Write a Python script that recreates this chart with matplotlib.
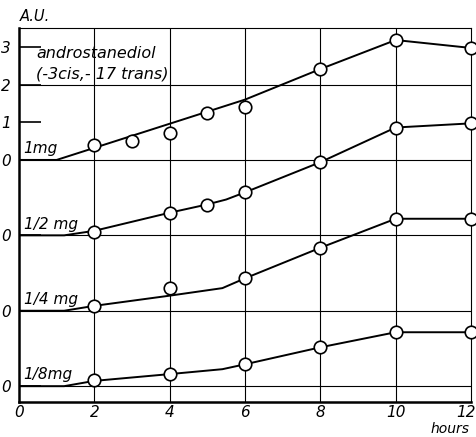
import matplotlib.pyplot as plt
from matplotlib.transforms import ScaledTranslation

# hours at which samples were taken
hours = [2, 4, 6, 8, 10, 12]

# measured points (A.U.) for each dose
pts_1mg_x = [2, 3, 4, 5, 6, 8, 10, 12]
pts_1mg_y = [0.40, 0.50, 0.72, 1.25, 1.40, 2.41, 3.18, 2.97]
pts_half_x = [2, 4, 5, 6, 8, 10, 12]
pts_half_y = [0.10, 0.60, 0.80, 1.14, 1.94, 2.86, 2.97]
pts_quarter_y = [0.13, 0.61, 0.86, 1.67, 2.44, 2.44]
pts_eighth_y = [0.16, 0.32, 0.58, 1.03, 1.43, 1.43]

# drawn (fitted) curves
fit_1mg_x = [0, 1, 6, 8, 10, 12]
fit_1mg_y = [0, 0, 1.60, 2.41, 3.18, 2.97]
fit_half_x = [0, 1.2, 2, 4, 5, 5.5, 6, 8, 10, 12]
fit_half_y = [0, 0, 0.12, 0.60, 0.82, 0.95, 1.14, 1.94, 2.86, 2.97]
fit_quarter_x = [0, 1.2, 2, 4, 5.4, 6, 8, 10, 12]
fit_quarter_y = [0, 0, 0.13, 0.40, 0.60, 0.86, 1.67, 2.44, 2.44]
fit_eighth_x = [0, 1.2, 2, 4, 5.4, 6, 8, 10, 12]
fit_eighth_y = [0, 0, 0.14, 0.32, 0.45, 0.58, 1.03, 1.43, 1.43]

# vertical offset of each curve's zero line
offsets = [0, -2, -4, -6]
dose_labels = ["1mg", "1/2 mg", "1/4 mg", "1/8mg"]

fig = plt.figure(figsize=(4.77, 4.37), dpi=100)
ax = fig.add_axes([0.0398, 0.0801, 0.9476, 0.8559])
ax.set_xlim(0, 12)
ax.set_ylim(-6.42, 3.5)

for gx in [2, 4, 6, 8, 10]:
    ax.axvline(gx, color="black", lw=0.8, zorder=1)
for gy in [2, 0, -2, -4, -6]:
    ax.axhline(gy, color="black", lw=0.8, zorder=1)

series = [
    (fit_1mg_x, fit_1mg_y, pts_1mg_x, pts_1mg_y),
    (fit_half_x, fit_half_y, pts_half_x, pts_half_y),
    (fit_quarter_x, fit_quarter_y, hours, pts_quarter_y),
    (fit_eighth_x, fit_eighth_y, hours, pts_eighth_y),
]
for (fx, fy, px, py), off, lab in zip(series, offsets, dose_labels):
    ax.plot(fx, [v + off for v in fy], color="black", lw=1.4, zorder=2)
    ax.plot(px, [v + off for v in py], "o", ms=9, mfc="white", mec="black",
            mew=1.2, zorder=3, clip_on=False)
    ax.text(0.12, off + 0.1, lab, fontsize=11, style="italic", ha="left", va="bottom")

ax.text(0.45, 2.55, "androstanediol\n(-3cis,- 17 trans)", fontsize=11.5,
        style="italic", ha="left", va="center", linespacing=1.45)

for side in ["top", "right"]:
    ax.spines[side].set_linewidth(0.8)
for side in ["left", "bottom"]:
    ax.spines[side].set_linewidth(1.8)

ax.set_xticks(range(0, 13, 2))
ax.set_xticklabels([str(h) for h in range(0, 13, 2)], fontsize=11, style="italic")
ax.tick_params(axis="x", length=0, pad=2)
last = ax.get_xticklabels()[-1]
last.set_transform(last.get_transform() + ScaledTranslation(-5 / 100, 0, fig.dpi_scale_trans))
ax.set_yticks([3, 2, 1, 0, -2, -4, -6])
ax.set_yticklabels(["3", "2", "1", "0", "0", "0", "0"], fontsize=11, style="italic")
ax.tick_params(axis="y", direction="in", length=16, width=1.2, pad=6)

fig.text(0.042, 0.945, "A.U.", fontsize=10.5, style="italic", ha="left", va="bottom")
fig.text(0.985, 0.002, "hours", fontsize=10, style="italic", ha="right", va="bottom")

fig.savefig("out.png", dpi=100)
